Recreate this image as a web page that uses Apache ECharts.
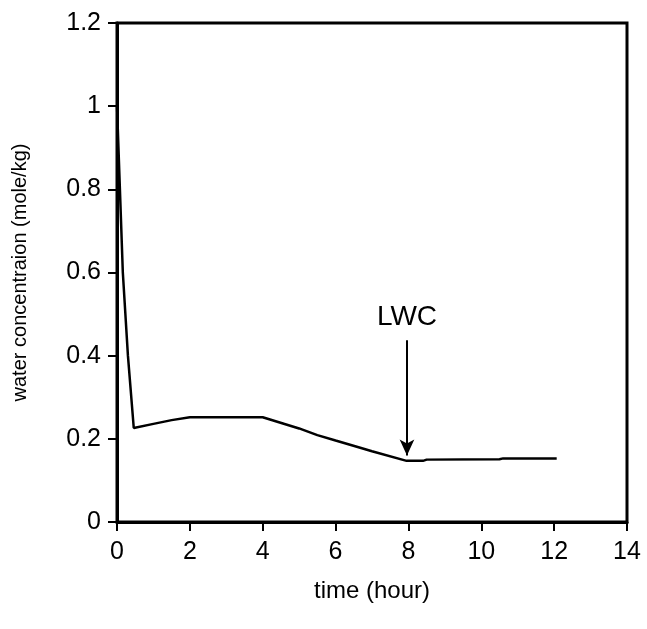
<!DOCTYPE html>
<html><head><meta charset="utf-8">
<script src="https://cdn.jsdelivr.net/npm/echarts@6/dist/echarts.min.js"></script>
<style>html,body{margin:0;padding:0;background:#fff}#c{width:647px;height:629px}</style>
</head><body><div id="c"></div>
<script>
const timeH = [0, 0.04, 0.08, 0.16, 0.3, 0.46, 1.0, 1.5, 2.0, 3.0, 4.0, 5.0, 5.5, 6.0, 6.7, 7.0, 7.95, 8.4, 8.5, 10.5, 10.6, 12.07];
const water = [1.0, 0.9, 0.8, 0.6, 0.4, 0.226, 0.236, 0.245, 0.252, 0.252, 0.252, 0.225, 0.209, 0.196, 0.178, 0.170, 0.147, 0.147, 0.150, 0.151, 0.153, 0.153];
const xTicks = [0, 2, 4, 6, 8, 10, 12, 14];
const yTicks = [0, 0.2, 0.4, 0.6, 0.8, 1, 1.2];
const arrowX = 7.96, arrowTop = 0.437, arrowTip = 0.16;
const arrowLabel = 'LWC';
const font = 'Liberation Sans, Arial, sans-serif';
const chart = echarts.init(document.getElementById('c'));
chart.setOption({
  animation: false,
  grid: {left: 117, right: 20, top: 23, bottom: 107, outerBoundsMode: 'none', containLabel: false,
    show: true, borderColor: '#000', borderWidth: 3, backgroundColor: 'transparent'},
  xAxis: {type: 'value', min: xTicks[0], max: xTicks[xTicks.length-1], interval: 2,
    name: 'time (hour)', nameLocation: 'middle', nameGap: 57,
    nameTextStyle: {fontFamily: font, fontSize: 24, color: '#000'},
    axisLine: {lineStyle: {color: '#000', width: 3}},
    axisTick: {inside: false, length: 9, lineStyle: {color: '#000', width: 2}},
    axisLabel: {fontFamily: font, fontSize: 25, color: '#000', margin: 18},
    splitLine: {show: false}},
  yAxis: {type: 'value', min: yTicks[0], max: yTicks[yTicks.length-1], interval: 0.2,
    name: 'water concentraion (mole/kg)', nameLocation: 'middle', nameGap: 87,
    nameTextStyle: {fontFamily: font, fontSize: 20, color: '#000'},
    axisLine: {lineStyle: {color: '#000', width: 3}},
    axisTick: {inside: false, length: 9, lineStyle: {color: '#000', width: 2}},
    axisLabel: {fontFamily: font, fontSize: 25, color: '#000', margin: 16},
    splitLine: {show: false}},
  series: [{
    type: 'line', data: timeH.map((t, i) => [t, water[i]]), showSymbol: false,
    lineStyle: {color: '#000', width: 2.5},
    markLine: {silent: true, symbol: ['none', 'arrow'], symbolSize: [11, 16],
      lineStyle: {color: '#000', width: 2, type: 'solid'},
      label: {show: true, position: 'start', formatter: arrowLabel, distance: 9,
        fontFamily: font, fontSize: 28, color: '#000', textBorderWidth: 0},
      data: [[{coord: [arrowX, arrowTop]}, {coord: [arrowX, arrowTip]}]]}
  }]
});
</script></body></html>
